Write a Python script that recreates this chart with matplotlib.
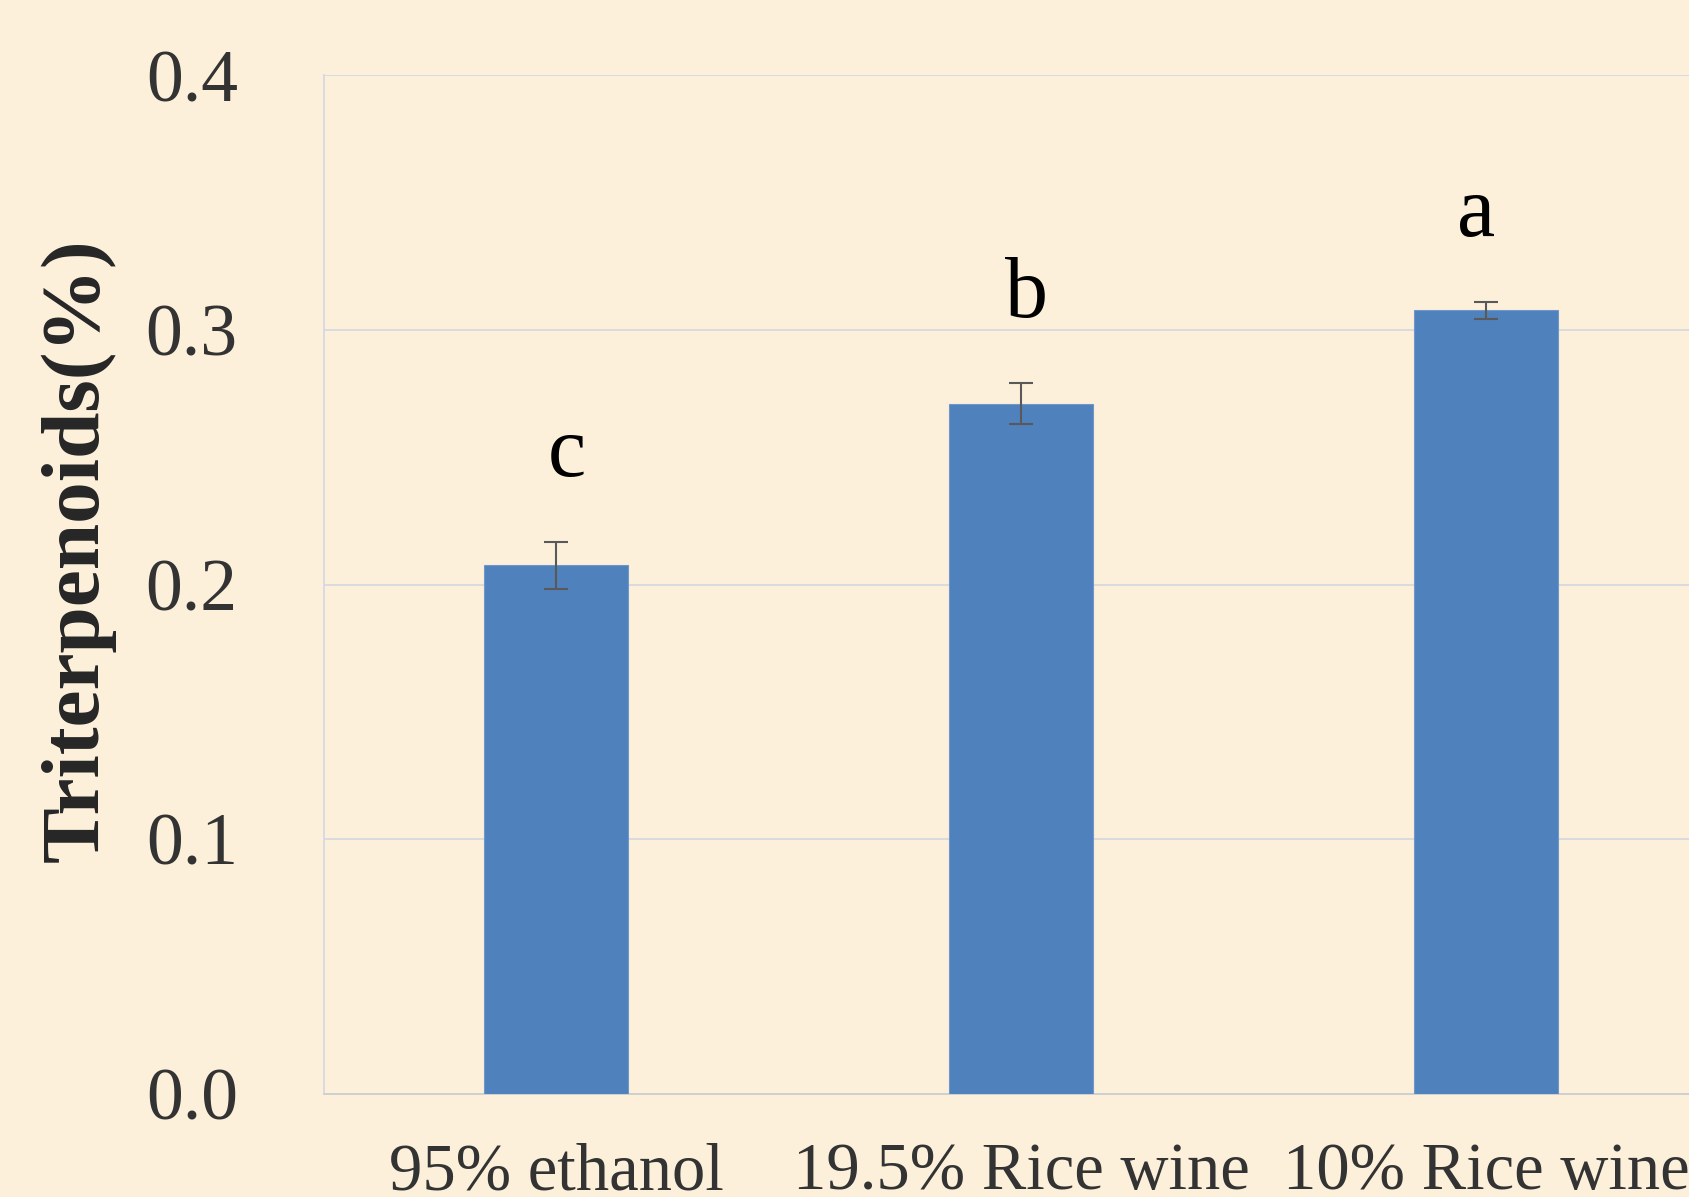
import matplotlib
matplotlib.use('Agg')
import matplotlib.pyplot as plt
import numpy as np

plt.rcParams['font.family'] = ['Liberation Serif', 'DejaVu Serif']

# 三种提取溶剂的三萜含量
solvents = ['95% ethanol', '19.5% Rice wine', '10% Rice wine']
triterpenoids = [0.2075, 0.271, 0.3078]
errors = [0.0092, 0.0080, 0.0033]
letters = ['c', 'b', 'a']
letter_dx = [11, 5, -10]   # 字母的水平微调(像素)

bg = '#fcf0da'
fig = plt.figure(figsize=(16.89, 11.97), dpi=100, facecolor=bg)
ax = fig.add_axes([0.1918, 0.0863, 0.8256, 0.8507])
ax.set_facecolor(bg)

x = np.arange(len(solvents))
ax.bar(x, triterpenoids, width=0.31, color='#4f81bd', edgecolor='#6f97c9',
       linewidth=0.8, zorder=3)
ax.errorbar(x, triterpenoids, yerr=errors, fmt='none', ecolor='#595959',
            elinewidth=1.5, capsize=8.5, capthick=1.5, zorder=4)

# 显著性字母
for xi, v, e, lab, dx in zip(x, triterpenoids, errors, letters, letter_dx):
    ax.annotate(lab, xy=(xi, v + e), xytext=(dx * 0.72, 47.5),
                textcoords='offset points', ha='center', va='baseline',
                fontsize=62, color='black', zorder=5)

ax.set_xlim(-0.5, 2.5)
ax.set_ylim(0, 0.4)
ax.set_yticks([0, 0.1, 0.2, 0.3, 0.4])
ax.set_yticklabels(['0.0', '0.1', '0.2', '0.3', '0.4'])
ax.set_xticks(x)
ax.set_xticklabels(solvents)
ax.tick_params(axis='y', length=0, pad=62, labelsize=53, labelcolor='#333333')
ax.tick_params(axis='x', length=0, pad=35, labelsize=48, labelcolor='#333333')

ax.yaxis.grid(True, color='#d2d7e2', linewidth=1.2, zorder=0)
ax.set_axisbelow(True)
for s in ['top', 'right']:
    ax.spines[s].set_visible(False)
ax.spines['left'].set_color('#d2d7e2')
ax.spines['left'].set_linewidth(1.2)
ax.spines['bottom'].set_color('#d0d0d0')
ax.spines['bottom'].set_linewidth(1.4)

fig.text(0.046, 0.5405, 'Triterpenoids(%)', rotation=90, ha='center',
         va='center', fontsize=60, fontweight='bold', color='#262626')

fig.savefig('out.png', dpi=100, facecolor=bg)
